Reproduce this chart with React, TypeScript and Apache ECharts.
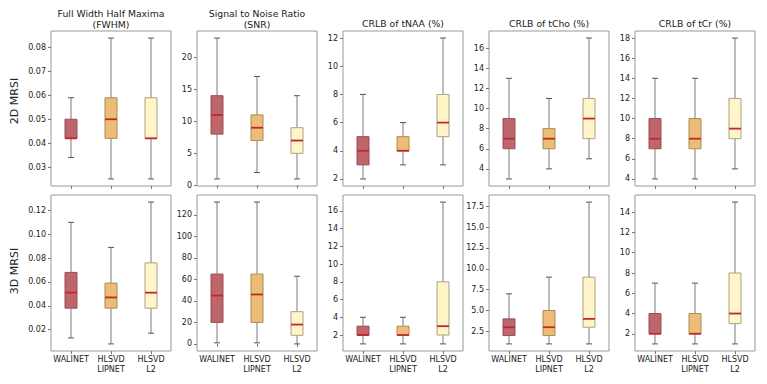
import React, { useEffect, useRef } from "react";
import * as echarts from "echarts";

// Box stats per method: [lowWhisker, q1, median, q3, highWhisker]
const categories = ["WALINET", "HLSVD\nLIPNET", "HLSVD\nL2"];

const fwhm2D = [
  [0.034, 0.042, 0.042, 0.050, 0.059],
  [0.025, 0.042, 0.050, 0.059, 0.084],
  [0.025, 0.042, 0.042, 0.059, 0.084],
];
const snr2D = [
  [1, 8, 11, 14, 23],
  [2, 7, 9, 11, 17],
  [1, 5, 7, 9, 14],
];
const naa2D = [
  [2, 3, 4, 5, 8],
  [3, 4, 4, 5, 6],
  [3, 5, 6, 8, 12],
];
const cho2D = [
  [3, 6, 7, 9, 13],
  [4, 6, 7, 8, 11],
  [5, 7, 9, 11, 17],
];
const cr2D = [
  [4, 7, 8, 10, 14],
  [4, 7, 8, 10, 14],
  [5, 8, 9, 12, 18],
];
const fwhm3D = [
  [0.013, 0.038, 0.051, 0.068, 0.110],
  [0.008, 0.038, 0.047, 0.059, 0.089],
  [0.017, 0.038, 0.051, 0.076, 0.127],
];
const snr3D = [
  [1, 20, 45, 65, 132],
  [1, 20, 46, 65, 132],
  [0, 8, 18, 30, 63],
];
const naa3D = [
  [1, 2, 2, 3, 4],
  [1, 2, 2, 3, 4],
  [1, 2, 3, 8, 17],
];
const cho3D = [
  [1, 2, 3, 4, 7],
  [1, 2, 3, 5, 9],
  [1, 3, 4, 9, 18],
];
const cr3D = [
  [1, 2, 2, 4, 7],
  [1, 2, 2, 4, 7],
  [1, 3, 4, 8, 15],
];

const titles = [
  ["Full Width Half Maxima", "(FWHM)"],
  ["Signal to Noise Ratio", "(SNR)"],
  ["CRLB of tNAA (%)"],
  ["CRLB of tCho (%)"],
  ["CRLB of tCr (%)"],
];
const rowLabels = ["2D MRSI", "3D MRSI"];

// y-axis ticks per panel
const ticks2D = [
  [0.03, 0.04, 0.05, 0.06, 0.07, 0.08],
  [0, 5, 10, 15, 20],
  [2, 4, 6, 8, 10, 12],
  [4, 6, 8, 10, 12, 14, 16],
  [4, 6, 8, 10, 12, 14, 16, 18],
];
const ticks3D = [
  [0.02, 0.04, 0.06, 0.08, 0.1, 0.12],
  [0, 20, 40, 60, 80, 100, 120],
  [2, 4, 6, 8, 10, 12, 14, 16],
  [2.5, 5, 7.5, 10, 12.5, 15, 17.5],
  [2, 4, 6, 8, 10, 12, 14],
];
const decimals2D = [2, 0, 0, 0, 0];
const decimals3D = [2, 0, 0, 1, 0];

const fills = ["#bd666c", "#ebbd76", "#fff5c9"];
const borders = ["#9a4c52", "#ad8a56", "#a9a283"];

const FONT = "DejaVu Sans";

export default function App() {
  const ref = useRef<HTMLDivElement>(null);

  useEffect(() => {
    document.body.style.margin = "0";
    if (!ref.current) return;
    const chart = echarts.init(ref.current, undefined, { renderer: "svg" });

    const panels = [
      fwhm2D, snr2D, naa2D, cho2D, cr2D,
      fwhm3D, snr3D, naa3D, cho3D, cr3D,
    ];
    const allTicks = [...ticks2D, ...ticks3D];
    const allDec = [...decimals2D, ...decimals3D];
    const lefts = [51, 197, 343, 489, 635];
    const width = 120;
    const rowTops = [31, 195];
    const rowHeights = [155, 156];

    const grids: any[] = [];
    const xAxes: any[] = [];
    const yAxes: any[] = [];
    const series: any[] = [];

    panels.forEach((stats, i) => {
      const row = i < 5 ? 0 : 1;
      const col = i % 5;
      grids.push({
        left: lefts[col],
        top: rowTops[row],
        width,
        height: rowHeights[row],
        show: true,
        borderColor: "#999",
        borderWidth: 1,
        backgroundColor: "transparent",
        containLabel: false,
      });
      let lo = Infinity;
      let hi = -Infinity;
      stats.forEach((s) => {
        lo = Math.min(lo, s[0]);
        hi = Math.max(hi, s[4]);
      });
      const pad = (hi - lo) * 0.05;
      xAxes.push({
        type: "category",
        gridIndex: i,
        data: categories,
        boundaryGap: true,
        axisLine: { show: false },
        axisTick: {
          show: true,
          alignWithLabel: true,
          length: 3,
          lineStyle: { color: "#777" },
        },
        axisLabel: {
          show: row === 1,
          interval: 0,
          margin: 3,
          fontFamily: FONT,
          fontSize: 8,
          lineHeight: 10,
          color: "#222",
        },
        splitLine: { show: false },
      });
      const dec = allDec[i];
      yAxes.push({
        type: "value",
        gridIndex: i,
        min: lo - pad,
        max: hi + pad,
        axisLine: { show: false },
        axisTick: {
          show: true,
          length: 3,
          lineStyle: { color: "#777" },
          customValues: allTicks[i],
        },
        axisLabel: {
          show: true,
          margin: 5,
          fontFamily: FONT,
          fontSize: 8,
          color: "#222",
          customValues: allTicks[i],
          formatter: (v: number) => Number(v).toFixed(dec),
        },
        splitLine: { show: false },
      });
      series.push({
        type: "custom",
        xAxisIndex: i,
        yAxisIndex: i,
        encode: { x: 0, y: [1, 2, 3, 4, 5] },
        data: stats.map((s, k) => [k, ...s]),
        renderItem: (params: any, api: any) => {
          const k = api.value(0);
          const pLo = api.coord([k, api.value(1)]);
          const pQ1 = api.coord([k, api.value(2)]);
          const pMed = api.coord([k, api.value(3)]);
          const pQ3 = api.coord([k, api.value(4)]);
          const pHi = api.coord([k, api.value(5)]);
          const cx = pLo[0];
          const bw = 12;
          const cw = 6;
          const whisk = { stroke: "#7a7a7a", lineWidth: 1 };
          const cap = { stroke: "#555", lineWidth: 1 };
          return {
            type: "group",
            children: [
              { type: "line", shape: { x1: cx, y1: pLo[1], x2: cx, y2: pQ1[1] }, style: whisk },
              { type: "line", shape: { x1: cx, y1: pQ3[1], x2: cx, y2: pHi[1] }, style: whisk },
              { type: "line", shape: { x1: cx - cw / 2, y1: pLo[1], x2: cx + cw / 2, y2: pLo[1] }, style: cap },
              { type: "line", shape: { x1: cx - cw / 2, y1: pHi[1], x2: cx + cw / 2, y2: pHi[1] }, style: cap },
              {
                type: "rect",
                shape: { x: cx - bw / 2, y: pQ3[1], width: bw, height: pQ1[1] - pQ3[1] },
                style: { fill: fills[k], stroke: borders[k], lineWidth: 1 },
              },
              {
                type: "line",
                shape: { x1: cx - bw / 2, y1: pMed[1], x2: cx + bw / 2, y2: pMed[1] },
                style: { stroke: "#c0282d", lineWidth: 1.8 },
              },
            ],
          };
        },
      });
    });

    const graphics: any[] = [];
    titles.forEach((t, col) => {
      const cx = lefts[col] + width / 2;
      if (t.length === 2) {
        graphics.push({
          type: "text", x: cx, y: 13,
          style: { text: t[0], textAlign: "center", textVerticalAlign: "middle", fontFamily: FONT, fontSize: 9.3, fill: "#222" },
        });
        graphics.push({
          type: "text", x: cx, y: 24,
          style: { text: t[1], textAlign: "center", textVerticalAlign: "middle", fontFamily: FONT, fontSize: 9.3, fill: "#222" },
        });
      } else {
        graphics.push({
          type: "text", x: cx, y: 23.5,
          style: { text: t[0], textAlign: "center", textVerticalAlign: "middle", fontFamily: FONT, fontSize: 9.3, fill: "#222" },
        });
      }
    });
    const rowCenters = [101, 271];
    rowLabels.forEach((t, r) => {
      graphics.push({
        type: "text", x: 14, y: rowCenters[r], rotation: Math.PI / 2,
        style: { text: t, textAlign: "center", textVerticalAlign: "middle", fontFamily: FONT, fontSize: 11, fill: "#222" },
      });
    });

    chart.setOption({
      animation: false,
      backgroundColor: "#fff",
      grid: grids,
      xAxis: xAxes,
      yAxis: yAxes,
      series,
      graphic: graphics,
    });

    return () => chart.dispose();
  }, []);

  return <div ref={ref} style={{ width: 767, height: 384 }} />;
}
